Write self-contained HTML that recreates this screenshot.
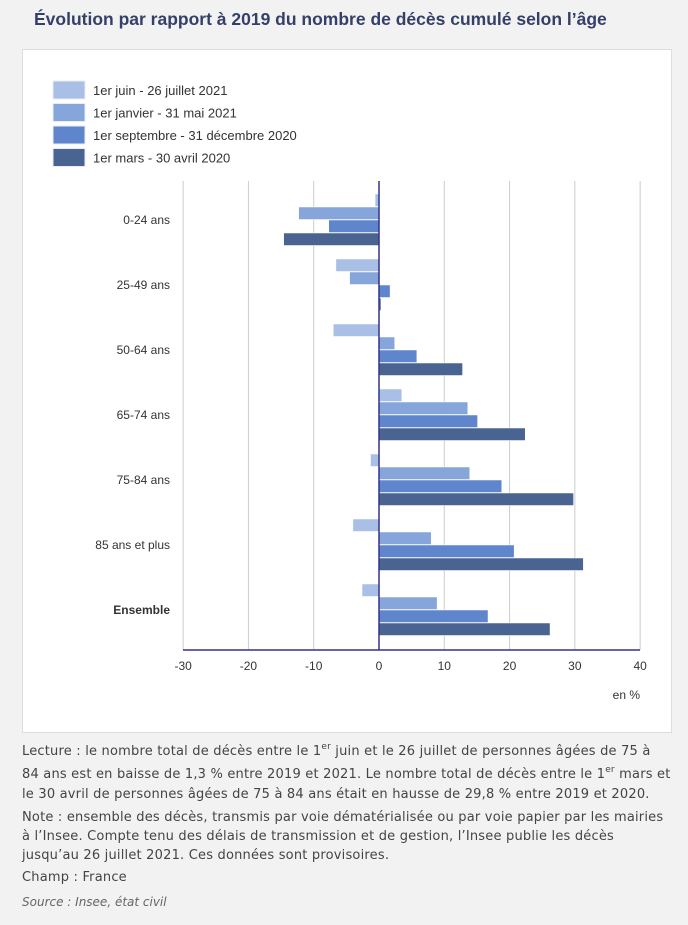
<!DOCTYPE html>
<html><head><meta charset="utf-8"><style>
body{margin:0;background:#f2f2f2;font-family:"Liberation Sans",sans-serif;color:#333;}
#wrap{position:relative;width:688px;height:925px;}
h1{position:absolute;left:34px;top:9px;margin:0;font-size:17.5px;font-weight:bold;color:#34406a;}
#panel{position:absolute;left:22px;top:49px;width:648px;height:682px;background:#fff;border:1px solid #ddd;}
.ln{position:absolute;left:22px;font-family:"DejaVu Sans",sans-serif;font-size:13px;letter-spacing:0.2px;color:#444;line-height:18px;white-space:nowrap;}
sup{font-size:9px;line-height:0;vertical-align:6px;}
</style></head><body><div id="wrap">
<h1>Évolution par rapport à 2019 du nombre de décès cumulé selon l’âge</h1>
<div id="panel"></div>
<svg id="chart" width="688" height="925" style="position:absolute;left:0;top:0" font-family="Liberation Sans, sans-serif"></svg>
<div>
<div class="ln" style="top:743px">Lecture : le nombre total de décès entre le 1<sup>er</sup> juin et le 26 juillet de personnes âgées de 75 à</div>
<div class="ln" style="top:766px">84 ans est en baisse de 1,3 % entre 2019 et 2021. Le nombre total de décès entre le 1<sup>er</sup> mars et</div>
<div class="ln" style="top:786px">le 30 avril de personnes âgées de 75 à 84 ans était en hausse de 29,8 % entre 2019 et 2020.</div>
</div>
<div>
<div class="ln" style="top:809px">Note : ensemble des décès, transmis par voie dématérialisée ou par voie papier par les mairies</div>
<div class="ln" style="top:828px">à l’Insee. Compte tenu des délais de transmission et de gestion, l’Insee publie les décès</div>
<div class="ln" style="top:847px">jusqu’au 26 juillet 2021. Ces données sont provisoires.</div>
</div>
<div class="ln" style="top:869px">Champ : France</div>
<div class="ln" style="top:893px;font-style:italic;color:#666;font-size:12px;letter-spacing:0">Source : Insee, état civil</div>
</div>
<script>
const categories=["0-24 ans","25-49 ans","50-64 ans","65-74 ans","75-84 ans","85 ans et plus","Ensemble"];
const seriesNames=["1er juin - 26 juillet 2021","1er janvier - 31 mai 2021","1er septembre - 31 décembre 2020","1er mars - 30 avril 2020"];
const juinJuil2021=[-0.6,-6.6,-7.0,3.5,-1.3,-4.0,-2.6];
const janMai2021=[-12.3,-4.5,2.4,13.6,13.9,8.0,8.9];
const sepDec2020=[-7.7,1.7,5.8,15.1,18.8,20.7,16.7];
const marsAvr2020=[-14.6,0.3,12.8,22.4,29.8,31.3,26.2];
const ticks=[-30,-20,-10,0,10,20,30,40];
const colors=["#a9bfe6","#86a5da","#5f86cd","#4a6491"];
const series=[juinJuil2021,janMai2021,sepDec2020,marsAvr2020];
const NS="http://www.w3.org/2000/svg";
const svg=document.getElementById('chart');
const x=v=>379+(v*457/70);
const top0=194,step=65,barH=13;
function mk(t,a,txt){const e=document.createElementNS(NS,t);for(const k in a)e.setAttribute(k,a[k]);if(txt!=null)e.textContent=txt;svg.appendChild(e);return e;}
ticks.forEach(t=>{
 if(t!==0){const l=mk('line',{x1:x(t),x2:x(t),y1:181,y2:650,stroke:'#ccc','stroke-width':1});
 
 }
 const tx=mk('text',{x:x(t),y:670,'text-anchor':'middle','font-size':12,fill:'#333'},t);
 
 
});
categories.forEach((c,i)=>{
 const g0=top0+i*step;
 series.forEach((s,j)=>{
  const v=s[i];const x0=Math.min(x(0),x(v));
  const r=mk('rect',{x:x0,y:g0+j*barH,width:Math.abs(x(v)-x(0)),height:barH-0.5,fill:colors[j],stroke:'#fff','stroke-width':0.5});
  
  
 });
 const lb=mk('text',{x:170,y:g0+barH*2+4,'text-anchor':'end','font-size':12,fill:'#333','font-weight':c==='Ensemble'?'bold':'normal'},c);
 
 
});
const ax=mk('line',{x1:x(0),x2:x(0),y1:181,y2:650,stroke:'#33338a','stroke-width':1.5});


const bx=mk('line',{x1:183,x2:640,y1:650,y2:650,stroke:'#33338a','stroke-width':1.5});


const un=mk('text',{x:640,y:699,'text-anchor':'end','font-size':12,fill:'#333'},'en %');


seriesNames.forEach((n,j)=>{
 const y=81+j*22.5;
 const r=mk('rect',{x:53,y:y,width:32,height:18,fill:colors[j],stroke:'#e8edf7','stroke-width':1});
 
 
 const t=mk('text',{x:93,y:y+14,'font-size':13,fill:'#333'},n);
 
 
});
</script></body></html>
